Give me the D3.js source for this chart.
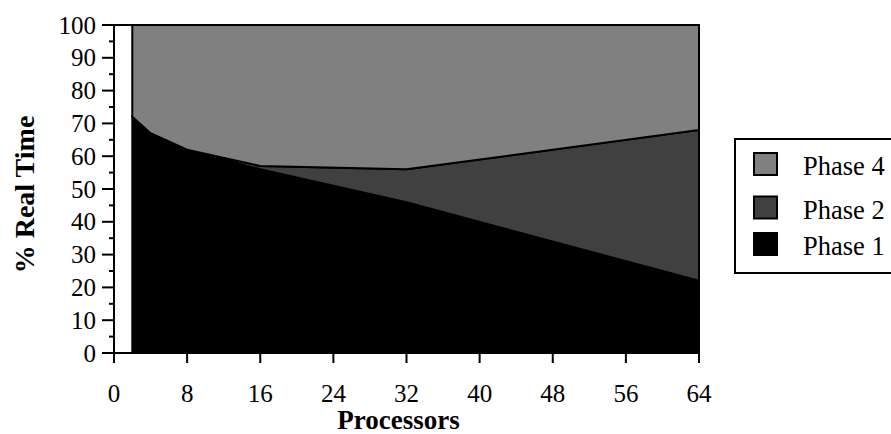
<!DOCTYPE html>
<html>
<head>
<meta charset="utf-8">
<script src="https://cdn.jsdelivr.net/npm/d3@7/dist/d3.min.js"></script>
<style>
  html, body { margin: 0; padding: 0; background: #fff; }
  svg { display: block; font-family: "Liberation Serif", "Times New Roman", serif; }
</style>
</head>
<body>
<svg id="chart" width="891" height="434"></svg>
<script>
// Processor counts measured
const processors = [2, 4, 8, 16, 32, 64];
// Share of real time per phase (%)
const phase1 = [72, 67, 62, 56, 46, 22];
const phase2 = [0, 0, 0, 1, 10, 46];
const phase4 = [28, 33, 38, 43, 44, 32];

const seriesNames = ["Phase 1", "Phase 2", "Phase 4"];
const seriesColors = ["#000000", "#404040", "#808080"];
const legendOrder = ["Phase 4", "Phase 2", "Phase 1"];

const xTicks = [0, 8, 16, 24, 32, 40, 48, 56, 64];
const yTicks = [0, 10, 20, 30, 40, 50, 60, 70, 80, 90, 100];

const svg = d3.select("#chart");
const plot = { left: 114, right: 699, top: 25, bottom: 353 };

const x = d3.scaleLinear().domain([0, 64]).range([plot.left, plot.right]);
const y = d3.scaleLinear().domain([0, 100]).range([plot.bottom, plot.top]);

const rows = processors.map((p, i) => ({
  p, "Phase 1": phase1[i], "Phase 2": phase2[i], "Phase 4": phase4[i]
}));
const stacked = d3.stack().keys(seriesNames)(rows);

const area = d3.area()
  .x(d => x(d.data.p))
  .y0(d => y(d[0]))
  .y1(d => y(d[1]));

// stacked layers, bottom first
svg.append("g").selectAll("path")
  .data(stacked)
  .join("path")
  .attr("d", area)
  .attr("fill", (d, i) => seriesColors[i])
  .attr("stroke", "#000")
  .attr("stroke-width", 2)
  .attr("stroke-linejoin", "miter");

// top border running across at 100%
svg.append("line")
  .attr("x1", x(0) - 11).attr("x2", x(64) + 1)
  .attr("y1", y(100)).attr("y2", y(100))
  .attr("stroke", "#000").attr("stroke-width", 2);

// y axis with minor ticks
const yAxis = svg.append("g").attr("transform", `translate(${plot.left},0)`);
yAxis.append("line")
  .attr("x1", 0).attr("x2", 0)
  .attr("y1", y(100) - 1).attr("y2", y(0) + 10)
  .attr("stroke", "#000").attr("stroke-width", 2);
yAxis.selectAll("line.minor")
  .data(d3.range(5, 100, 10))
  .join("line").attr("class", "minor")
  .attr("x1", -5).attr("x2", 0)
  .attr("y1", d => y(d)).attr("y2", d => y(d))
  .attr("stroke", "#000").attr("stroke-width", 2);
yAxis.selectAll("line.major")
  .data(yTicks)
  .join("line").attr("class", "major")
  .attr("x1", -12).attr("x2", 0)
  .attr("y1", d => y(d)).attr("y2", d => y(d))
  .attr("stroke", "#000").attr("stroke-width", 2);
yAxis.selectAll("text")
  .data(yTicks)
  .join("text")
  .attr("x", -18)
  .attr("y", d => y(d))
  .attr("dy", "0.34em")
  .attr("text-anchor", "end")
  .attr("font-size", 25)
  .text(d => d);

// x axis
const xAxis = svg.append("g").attr("transform", `translate(0,${plot.bottom})`);
xAxis.append("line")
  .attr("x1", x(0) - 11).attr("x2", x(64))
  .attr("y1", 0).attr("y2", 0)
  .attr("stroke", "#000").attr("stroke-width", 2);
xAxis.selectAll("line.tick")
  .data(xTicks)
  .join("line").attr("class", "tick")
  .attr("x1", d => x(d)).attr("x2", d => x(d))
  .attr("y1", 0).attr("y2", 10)
  .attr("stroke", "#000").attr("stroke-width", 2);
xAxis.selectAll("text")
  .data(xTicks)
  .join("text")
  .attr("x", d => x(d))
  .attr("y", 49)
  .attr("text-anchor", "middle")
  .attr("font-size", 25)
  .text(d => d);

// axis titles
svg.append("text")
  .attr("x", 398.5).attr("y", 429)
  .attr("text-anchor", "middle")
  .attr("font-weight", "bold")
  .attr("font-size", 27)
  .text("Processors");

svg.append("text")
  .attr("transform", "translate(34,194.5) rotate(-90)")
  .attr("text-anchor", "middle")
  .attr("font-weight", "bold")
  .attr("font-size", 28)
  .text("% Real Time");

// legend
const legend = svg.append("g");
legend.append("rect")
  .attr("x", 735).attr("y", 139)
  .attr("width", 170).attr("height", 134)
  .attr("fill", "#fff").attr("stroke", "#000").attr("stroke-width", 2);
const legendRowTop = [152, 195.5, 232];
legendOrder.forEach((name, i) => {
  const k = seriesNames.indexOf(name);
  legend.append("rect")
    .attr("x", 754).attr("y", legendRowTop[i] + 1)
    .attr("width", 23).attr("height", 22)
    .attr("fill", seriesColors[k])
    .attr("stroke", "#000").attr("stroke-width", 2);
  legend.append("text")
    .attr("x", 803).attr("y", legendRowTop[i] + 23)
    .attr("font-size", 26.5)
    .text(name);
});
</script>
</body>
</html>
